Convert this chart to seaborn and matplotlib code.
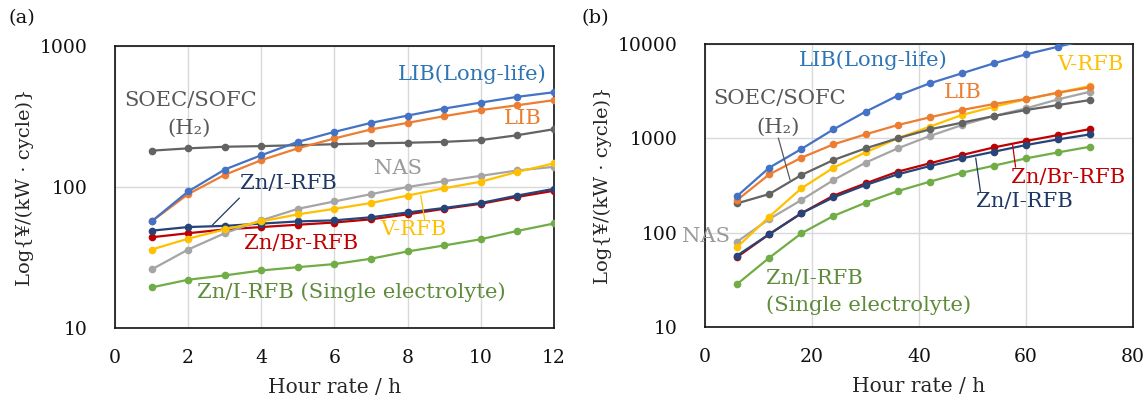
import numpy as np
import pandas as pd
import matplotlib
matplotlib.use("Agg")
import matplotlib.pyplot as plt
import seaborn as sns

sns.set_theme(style="white")
plt.rcParams["font.family"] = ["DejaVu Serif", "DejaVu Sans"]

# ---------------- data: panel (a) ----------------
hours_a = [1, 2, 3, 4, 5, 6, 7, 8, 9, 10, 11, 12]
lib_long_a = [57, 93, 133, 168, 209, 246, 285, 321, 360, 397, 436, 470]
lib_a = [57, 89, 122, 155, 188, 221, 256, 285, 318, 351, 380, 413]
soec_a = [181, 188, 193, 195, 198, 201, 204, 206, 209, 215, 233, 257]
nas_a = [26, 36, 47, 58, 70, 79, 89, 100, 110, 120, 131, 139]
vrfb_a = [36, 43, 50, 57, 64, 70, 77, 87, 98, 109, 128, 147]
zni_a = [49, 52, 53, 55, 57, 58, 61, 66, 71, 77, 87, 97]
znbr_a = [44, 47, 50, 52, 54, 56, 59, 64, 70, 76, 85, 94]
zni_single_a = [19.4, 22.0, 23.6, 25.6, 27.0, 28.4, 31.0, 34.9, 38.5, 42.6, 48.8, 55.1]

# ---------------- data: panel (b) ----------------
hours_b = [6, 12, 18, 24, 30, 36, 42, 48, 54, 60, 66, 72]
lib_long_b = [244, 487, 769, 1243, 1914, 2830, 3826, 4884, 6237, 7770, 9370, 11300]
lib_b = [221, 414, 622, 861, 1100, 1381, 1667, 1994, 2308, 2609, 3045, 3470]
soec_b = [204, 256, 407, 588, 781, 998, 1243, 1463, 1722, 1994, 2253, 2545]
nas_b = [80, 139, 221, 360, 551, 781, 1056, 1381, 1722, 2077, 2588, 3120]
vrfb_b = [70, 147, 294, 487, 708, 998, 1327, 1765, 2162, 2588, 3045, 3584]
zni_b = [57, 96, 160, 236, 319, 414, 507, 612, 720, 848, 973, 1100]
znbr_b = [55, 96, 160, 246, 332, 442, 542, 664, 800, 935, 1082, 1253]
zni_single_b = [28.4, 54, 98, 150, 207, 275, 346, 431, 512, 612, 708, 814]

series_names = ["Zn/I-RFB (Single electrolyte)", "Zn/Br-RFB", "Zn/I-RFB",
                "NAS", "V-RFB", "SOEC/SOFC", "LIB", "LIB(Long-life)"]
line_colors = {
    "Zn/I-RFB (Single electrolyte)": "#70AD47",
    "Zn/Br-RFB": "#C00000",
    "Zn/I-RFB": "#264478",
    "NAS": "#A5A5A5",
    "V-RFB": "#FFC000",
    "SOEC/SOFC": "#636363",
    "LIB": "#ED7D31",
    "LIB(Long-life)": "#4472C4",
}
text_colors = {
    "Zn/I-RFB (Single electrolyte)": "#5E8C3A",
    "Zn/Br-RFB": "#C00000",
    "Zn/I-RFB": "#1F3864",
    "NAS": "#9A9A9A",
    "V-RFB": "#FFC000",
    "SOEC/SOFC": "#595959",
    "LIB": "#ED7D31",
    "LIB(Long-life)": "#2E75B6",
}

values_a = [zni_single_a, znbr_a, zni_a, nas_a, vrfb_a, soec_a, lib_a, lib_long_a]
values_b = [zni_single_b, znbr_b, zni_b, nas_b, vrfb_b, soec_b, lib_b, lib_long_b]


def long_table(hours, values):
    frames = []
    for name, vals in zip(series_names, values):
        frames.append(pd.DataFrame({"hour": hours, "cost": vals, "series": name}))
    return pd.concat(frames, ignore_index=True)


df_a = long_table(hours_a, values_a)
df_b = long_table(hours_b, values_b)

fig = plt.figure(figsize=(11.44, 4.0), dpi=100)
ax_a = fig.add_axes([0.1005, 0.18, 0.3837, 0.705])
ax_b = fig.add_axes([0.6163, 0.183, 0.3741, 0.707])

TICK_FS = 13.5
AXIS_FS = 14.5
NOTE_FS = 15.2


def draw_panel(ax, df, xlim, xticks, ylim, yticks):
    for name in series_names:
        sub = df[df["series"] == name]
        sns.lineplot(data=sub, x="hour", y="cost", color=line_colors[name],
                     marker="o", markersize=5.5, markeredgewidth=0,
                     linewidth=1.6, ax=ax, legend=False, zorder=3)
    ax.set_yscale("log")
    ax.set_xlim(*xlim)
    ax.set_ylim(*ylim)
    ax.set_xticks(xticks)
    ax.set_xticklabels([str(t) for t in xticks])
    ax.set_yticks(yticks)
    ax.set_yticklabels([str(t) for t in yticks])
    ax.yaxis.set_minor_locator(matplotlib.ticker.NullLocator())
    ax.grid(True, which="major", color="#D9D9D9", linewidth=1.0, zorder=0)
    ax.tick_params(axis="both", length=0, labelsize=TICK_FS, colors="#111111")
    ax.tick_params(axis="y", pad=20)
    ax.tick_params(axis="x", pad=15)
    for sp in ax.spines.values():
        sp.set_visible(True)
        sp.set_color("#111111")
        sp.set_linewidth(1.2)
    ax.set_xlabel("Hour rate / h", fontsize=AXIS_FS, labelpad=8)
    ax.set_ylabel("Log{¥/(kW · cycle)}", fontsize=AXIS_FS - 0.5, labelpad=4)


draw_panel(ax_a, df_a, (0, 12), [0, 2, 4, 6, 8, 10, 12], (10, 1000), [10, 100, 1000])
draw_panel(ax_b, df_b, (0, 80), [0, 20, 40, 60, 80], (10, 10000), [10, 100, 1000, 10000])


def label(ax, x, y, text, name, ha="center"):
    ax.text(x, y, text, color=text_colors[name], fontsize=NOTE_FS, ha=ha, va="center",
            zorder=5, clip_on=False)


def leader(ax, x0, y0, x1, y1, name):
    ax.plot([x0, x1], [y0, y1], color=text_colors[name], linewidth=0.9, zorder=4)


# panel (a) labels
label(ax_a, 9.78, 630, "LIB(Long-life)", "LIB(Long-life)")
label(ax_a, 11.15, 307, "LIB", "LIB")
label(ax_a, 2.06, 412, "SOEC/SOFC", "SOEC/SOFC")
label(ax_a, 2.03, 261, "(H₂)", "SOEC/SOFC")
label(ax_a, 7.75, 136, "NAS", "NAS")
label(ax_a, 4.74, 106, "Zn/I-RFB", "Zn/I-RFB")
leader(ax_a, 3.40, 83.4, 2.66, 53.6, "Zn/I-RFB")
label(ax_a, 8.17, 50.2, "V-RFB", "V-RFB")
leader(ax_a, 8.36, 87.5, 8.47, 58.2, "V-RFB")
label(ax_a, 5.10, 40, "Zn/Br-RFB", "Zn/Br-RFB")
label(ax_a, 6.47, 18.0, "Zn/I-RFB (Single electrolyte)", "Zn/I-RFB (Single electrolyte)")

# panel (b) labels
label(ax_b, 31.5, 6760, "LIB(Long-life)", "LIB(Long-life)")
label(ax_b, 72.1, 6135, "V-RFB", "V-RFB")
label(ax_b, 48.1, 3090, "LIB", "LIB")
label(ax_b, 13.9, 2673, "SOEC/SOFC", "SOEC/SOFC")
label(ax_b, 13.7, 1315, "(H₂)", "SOEC/SOFC")
leader(ax_b, 13.7, 1005, 15.9, 360, "SOEC/SOFC")
label(ax_b, 0.2, 91.6, "NAS", "NAS")
label(ax_b, 67.8, 387, "Zn/Br-RFB", "Zn/Br-RFB")
leader(ax_b, 57.5, 847, 58.05, 494, "Zn/Br-RFB")
label(ax_b, 59.6, 215, "Zn/I-RFB", "Zn/I-RFB")
leader(ax_b, 50.6, 617, 51.5, 268, "Zn/I-RFB")
label(ax_b, 11.4, 32.8, "Zn/I-RFB", "Zn/I-RFB (Single electrolyte)", ha="left")
label(ax_b, 11.4, 16.9, "(Single electrolyte)", "Zn/I-RFB (Single electrolyte)", ha="left")

fig.text(9 / 1144, 1 - 18 / 400, "(a)", fontsize=14, ha="left", va="center", color="#111111")
fig.text(581 / 1144, 1 - 18 / 400, "(b)", fontsize=14, ha="left", va="center", color="#111111")

fig.savefig("out.png", dpi=100, facecolor="white")
